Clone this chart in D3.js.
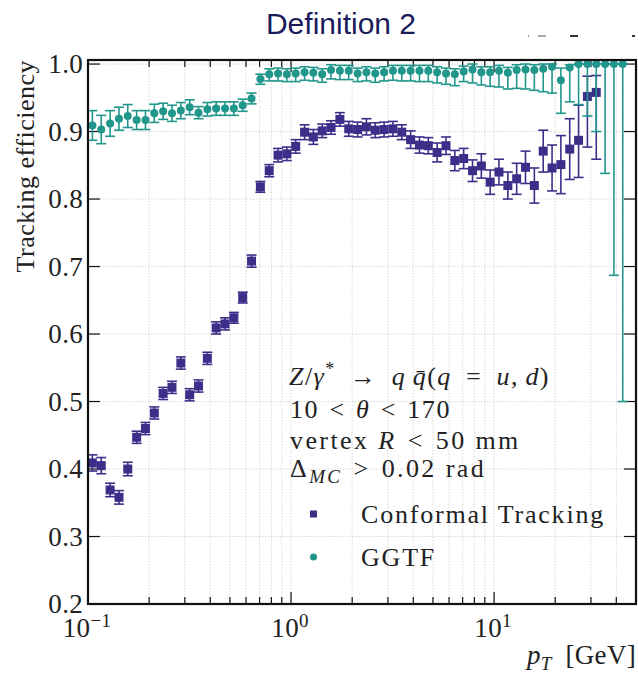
<!DOCTYPE html>
<html>
<head>
<meta charset="utf-8">
<script src="https://cdn.jsdelivr.net/npm/d3@7"></script>
<style>
  body { margin: 0; background: #fff; }
</style>
</head>
<body>
<div id="container"></div>
<script>
// pT bin centres (GeV), log binned
const ptBins = [0.1051, 0.1162, 0.1285, 0.1421, 0.1570, 0.1736, 0.1919, 0.2121, 0.2345, 0.2592,
  0.2866, 0.3168, 0.3502, 0.3871, 0.4279, 0.4730, 0.5229, 0.5780, 0.6390, 0.7064,
  0.7809, 0.8632, 0.9538, 1.054, 1.166, 1.288, 1.424, 1.574, 1.740, 1.924,
  2.127, 2.351, 2.599, 2.873, 3.176, 3.511, 3.881, 4.291, 4.743, 5.243,
  5.796, 6.407, 7.083, 7.830, 8.655, 9.565, 10.57, 11.69, 12.92, 14.28,
  15.79, 17.46, 19.30, 21.33, 23.58, 26.07, 28.82, 31.86, 35.22, 38.93, 43.03];

const conformalEff = [0.409, 0.405, 0.369, 0.358, 0.400, 0.447, 0.460, 0.483, 0.512, 0.521,
  0.557, 0.510, 0.523, 0.564, 0.609, 0.615, 0.624, 0.654, 0.708, 0.818,
  0.842, 0.865, 0.867, 0.878, 0.899, 0.892, 0.901, 0.906, 0.918, 0.904,
  0.903, 0.907, 0.902, 0.903, 0.904, 0.899, 0.888, 0.880, 0.879, 0.869,
  0.879, 0.857, 0.860, 0.842, 0.849, 0.825, 0.840, 0.820, 0.830, 0.847,
  0.820, 0.871, 0.846, 0.851, 0.874, 0.887, 0.952, 0.958];
const conformalErrLo = [0.012, 0.012, 0.010, 0.010, 0.010, 0.009, 0.009, 0.009, 0.009, 0.009,
  0.009, 0.009, 0.009, 0.009, 0.009, 0.009, 0.008, 0.008, 0.009, 0.008,
  0.009, 0.010, 0.010, 0.010, 0.011, 0.011, 0.010, 0.010, 0.010, 0.011,
  0.011, 0.012, 0.011, 0.011, 0.011, 0.011, 0.013, 0.012, 0.012, 0.014,
  0.013, 0.015, 0.015, 0.016, 0.018, 0.018, 0.019, 0.020, 0.023, 0.024,
  0.026, 0.031, 0.034, 0.043, 0.045, 0.055, 0.075, 0.099];
const conformalErrHi = [0.012, 0.012, 0.010, 0.010, 0.010, 0.009, 0.009, 0.009, 0.009, 0.009,
  0.009, 0.009, 0.009, 0.009, 0.009, 0.009, 0.008, 0.008, 0.009, 0.008,
  0.009, 0.010, 0.010, 0.010, 0.011, 0.011, 0.010, 0.010, 0.010, 0.011,
  0.011, 0.012, 0.011, 0.011, 0.011, 0.011, 0.013, 0.012, 0.012, 0.014,
  0.013, 0.015, 0.015, 0.016, 0.018, 0.018, 0.019, 0.020, 0.023, 0.024,
  0.026, 0.031, 0.034, 0.043, 0.045, 0.052, 0.030, 0.025];

const ggtfEff = [0.909, 0.903, 0.912, 0.919, 0.923, 0.917, 0.917, 0.927, 0.930, 0.927,
  0.931, 0.936, 0.928, 0.933, 0.934, 0.934, 0.934, 0.939, 0.949, 0.978,
  0.985, 0.986, 0.985, 0.986, 0.988, 0.987, 0.985, 0.991, 0.990, 0.990,
  0.986, 0.988, 0.986, 0.988, 0.990, 0.990, 0.990, 0.990, 0.990, 0.988,
  0.986, 0.985, 0.989, 0.992, 0.988, 0.988, 0.990, 0.987, 0.991, 0.992,
  0.991, 0.993, 0.996, 0.976, 0.995, 1.0, 1.0, 1.0, 1.0, 1.0, 1.0];
const ggtfErrLo = [0.022, 0.021, 0.019, 0.017, 0.017, 0.014, 0.014, 0.0135, 0.012, 0.012,
  0.012, 0.011, 0.009, 0.010, 0.010, 0.010, 0.010, 0.009, 0.008, 0.008,
  0.010, 0.011, 0.011, 0.012, 0.012, 0.012, 0.012, 0.013, 0.013, 0.013,
  0.012, 0.013, 0.013, 0.013, 0.014, 0.015, 0.015, 0.016, 0.016, 0.016,
  0.016, 0.017, 0.015, 0.020, 0.019, 0.021, 0.024, 0.024, 0.027, 0.029,
  0.030, 0.034, 0.039, 0.049, 0.051, 0.060, 0.077, 0.100, 0.162, 0.313, 0.500];
const ggtfErrHi = [0.022, 0.021, 0.019, 0.017, 0.017, 0.014, 0.014, 0.0135, 0.012, 0.012,
  0.012, 0.011, 0.009, 0.010, 0.010, 0.010, 0.010, 0.009, 0.008, 0.007,
  0.008, 0.008, 0.008, 0.008, 0.008, 0.008, 0.008, 0.008, 0.008, 0.008,
  0.008, 0.008, 0.008, 0.008, 0.008, 0.008, 0.008, 0.008, 0.008, 0.008,
  0.008, 0.008, 0.008, 0.008, 0.008, 0.008, 0.008, 0.008, 0.008, 0.008,
  0.008, 0.007, 0.004, 0.018, 0.004, 0, 0, 0, 0, 0, 0];

const yTicks = [0.2, 0.3, 0.4, 0.5, 0.6, 0.7, 0.8, 0.9, 1.0];
const xMajor = [0.1, 1, 10];
const xExponents = ['\u22121', '0', '1'];

const purple = '#3c2f8a';
const teal = '#21978c';
const SERIF = '"Liberation Serif", "Times New Roman", serif';

const width = 638, height = 674;
const box = { left: 88, right: 636, top: 60, bottom: 604 };

const svg = d3.select('#container').append('svg').attr('width', width).attr('height', height)
  .attr('font-family', SERIF);
svg.append('rect').attr('width', width).attr('height', height).attr('fill', '#fff');

const x = d3.scaleLog().domain([0.1, 50]).range([box.left, box.right]);
const y = d3.scaleLinear().domain([0.2, 1.006]).range([box.bottom, box.top]);

function txt(parent, size) {
  return parent.append('text').style('font-family', SERIF).style('font-size', size + 'px')
    .style('letter-spacing', '0.3px').attr('fill', '#222');
}
// shift a start-anchored text so it ends at / is centred on its x
function anchor(sel, how, x0) {
  const w = sel.node().getComputedTextLength();
  sel.attr('x', how === 'end' ? x0 - w : x0 - w / 2);
  return sel;
}

// title
svg.append('text').attr('x', 341).attr('y', 34).attr('text-anchor', 'middle')
  .style('font-family', '"Liberation Sans", Arial, sans-serif').style('font-size', '30px')
  .attr('fill', '#1b1b5c').text('Definition 2');

// cut-off marks at top right
[[528, 1, '#999'], [538, 8, '#aaa'], [570, 8, '#333'], [632, 3, '#333']].forEach(([mx, w, c]) => {
  svg.append('rect').attr('x', mx).attr('y', 35).attr('width', w).attr('height', 2).attr('fill', c);
});

svg.append('defs').append('clipPath').attr('id', 'plotclip')
  .append('rect').attr('x', box.left).attr('y', box.top).attr('width', box.right - box.left).attr('height', box.bottom - box.top);

// grid
const xGridTicks = x.ticks().filter(t => t > 0.1 && t < 50);
const grid = svg.append('g').attr('stroke', '#cfcfcf').attr('stroke-width', 0.8).attr('stroke-dasharray', '1.5,1.5');
xGridTicks.forEach(t => {
  grid.append('line').attr('x1', x(t)).attr('x2', x(t)).attr('y1', box.top).attr('y2', box.bottom);
});
yTicks.filter(t => t > 0.2).forEach(t => {
  grid.append('line').attr('x1', box.left).attr('x2', box.right).attr('y1', y(t)).attr('y2', y(t));
});

// ticks (inside, all four sides)
const tk = svg.append('g').attr('stroke', '#111').attr('stroke-width', 1.2);
xGridTicks.forEach(t => {
  const major = xMajor.some(m => Math.abs(m - t) < 1e-9);
  const len = major ? 12 : 7;
  tk.append('line').attr('x1', x(t)).attr('x2', x(t)).attr('y1', box.bottom).attr('y2', box.bottom - len);
  tk.append('line').attr('x1', x(t)).attr('x2', x(t)).attr('y1', box.top).attr('y2', box.top + len);
});
yTicks.forEach(t => {
  tk.append('line').attr('x1', box.left).attr('x2', box.left + 12).attr('y1', y(t)).attr('y2', y(t));
  tk.append('line').attr('x1', box.right).attr('x2', box.right - 12).attr('y1', y(t)).attr('y2', y(t));
});

// y tick labels
yTicks.forEach(t => {
  const s = txt(svg, 27).attr('y', y(t) + 9).text(t.toFixed(1));
  anchor(s, 'end', 83);
});

// x tick labels
xMajor.forEach((t, i) => {
  const lbl = txt(svg, 27).attr('y', 637);
  lbl.append('tspan').text('10');
  lbl.append('tspan').attr('dy', -10).style('font-size', '19px').text(xExponents[i]);
  anchor(lbl, 'middle', x(t) - 1);
});

// axis labels
const ylab = txt(svg, 26).attr('transform', `translate(34,${box.top}) rotate(-90)`)
  .attr('y', 0).style('letter-spacing', '0.5px').text('Tracking efficiency');
anchor(ylab, 'end', 0);

const xl = txt(svg, 27).attr('y', 664);
xl.append('tspan').style('font-style', 'italic').text('p');
xl.append('tspan').attr('dy', 6).style('font-style', 'italic').style('font-size', '19px').text('T');
xl.append('tspan').attr('dy', -6).text('\u2002[GeV]');
anchor(xl, 'end', box.right);

// data
const plot = svg.append('g').attr('clip-path', 'url(#plotclip)');

function errorBars(vals, lo, hi, color) {
  const g = plot.append('g').attr('stroke', color).attr('stroke-width', 1.6);
  vals.forEach((v, i) => {
    const cx = x(ptBins[i]);
    const y0 = y(v - lo[i]), y1 = y(v + hi[i]);
    g.append('line').attr('x1', cx).attr('x2', cx).attr('y1', y0).attr('y2', y1);
    g.append('line').attr('x1', cx - 5).attr('x2', cx + 5).attr('y1', y0).attr('y2', y0);
    g.append('line').attr('x1', cx - 5).attr('x2', cx + 5).attr('y1', y1).attr('y2', y1);
  });
}

errorBars(conformalEff, conformalErrLo, conformalErrHi, purple);
plot.append('g').selectAll('rect').data(conformalEff).join('rect')
  .attr('x', (d, i) => x(ptBins[i]) - 4.5).attr('y', d => y(d) - 4.5)
  .attr('width', 9).attr('height', 9).attr('fill', purple);

errorBars(ggtfEff, ggtfErrLo, ggtfErrHi, teal);
plot.append('g').selectAll('circle').data(ggtfEff).join('circle')
  .attr('cx', (d, i) => x(ptBins[i])).attr('cy', d => y(d)).attr('r', 4).attr('fill', teal);

// frame
svg.append('rect').attr('x', box.left).attr('y', box.top).attr('width', box.right - box.left).attr('height', box.bottom - box.top)
  .attr('fill', 'none').attr('stroke', '#111').attr('stroke-width', 2.2);

// annotation text
const l1 = txt(svg, 26).attr('x', 289).attr('y', 385).style('letter-spacing', '1.4px');
l1.append('tspan').style('font-style', 'italic').text('Z');
l1.append('tspan').text('/');
l1.append('tspan').style('font-style', 'italic').text('\u03b3');
l1.append('tspan').attr('dy', -10).style('font-size', '18px').text('*');
l1.append('tspan').attr('dy', 10).text('\u2002\u2192\u2002');
l1.append('tspan').style('font-style', 'italic').text('q\u2009q\u0304');
l1.append('tspan').text('(');
l1.append('tspan').style('font-style', 'italic').text('q');
l1.append('tspan').text('\u2002=\u2002');
l1.append('tspan').style('font-style', 'italic').text('u');
l1.append('tspan').text(',\u2009');
l1.append('tspan').style('font-style', 'italic').text('d');
l1.append('tspan').text(')');

const l2 = txt(svg, 26).attr('x', 290).attr('y', 418).style('letter-spacing', '1.6px');
l2.append('tspan').text('10\u2004<\u2004');
l2.append('tspan').style('font-style', 'italic').text('\u03b8');
l2.append('tspan').text('\u2004<\u2004170');

const l3 = txt(svg, 26).attr('x', 290).attr('y', 449).style('letter-spacing', '2.4px');
l3.append('tspan').text('vertex ');
l3.append('tspan').style('font-style', 'italic').text('R');
l3.append('tspan').text('\u2004<\u200450 mm');

const l4 = txt(svg, 26).attr('x', 290).attr('y', 477).style('letter-spacing', '2.4px');
l4.append('tspan').text('\u0394');
l4.append('tspan').attr('dy', 6).style('font-style', 'italic').style('font-size', '19px').text('MC');
l4.append('tspan').attr('dy', -6).text('\u2004>\u20040.02 rad');

// legend
const legendItems = [
  { name: 'Conformal Tracking', color: purple, shape: 'square', y: 514 },
  { name: 'GGTF', color: teal, shape: 'circle', y: 557 }
];
legendItems.forEach(it => {
  if (it.shape === 'square') {
    svg.append('rect').attr('x', 310).attr('y', it.y - 3.5).attr('width', 7).attr('height', 7).attr('fill', it.color);
  } else {
    svg.append('circle').attr('cx', 313.5).attr('cy', it.y).attr('r', 3.5).attr('fill', it.color);
  }
  txt(svg, 26).attr('x', 361).attr('y', it.y + 9).style('letter-spacing', '1.8px').text(it.name);
});
</script>
</body>
</html>
